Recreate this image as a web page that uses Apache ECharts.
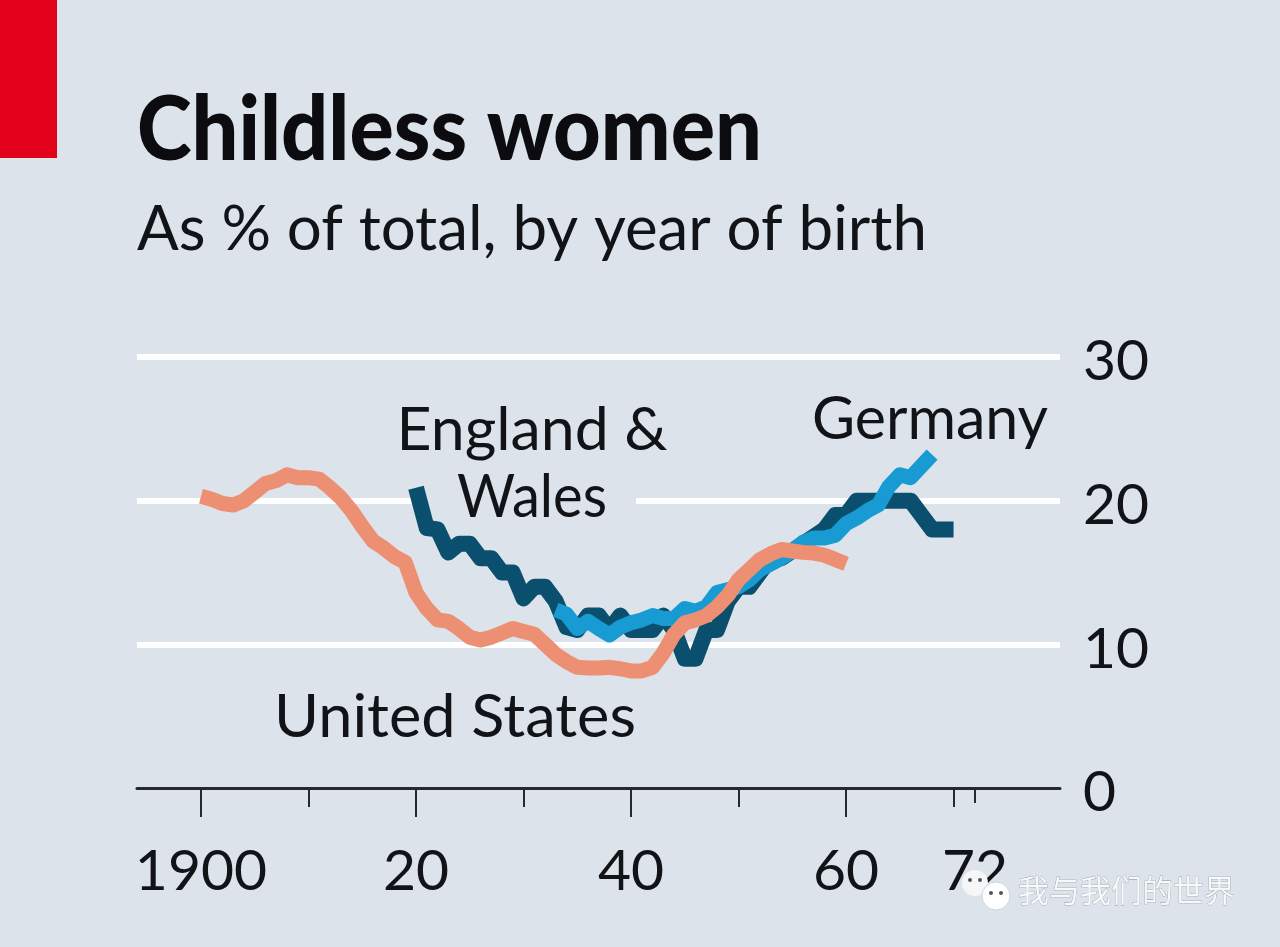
<!DOCTYPE html>
<html><head><meta charset="utf-8">
<style>html,body{margin:0;padding:0;background:#dce3eb}#c{width:1280px;height:947px}</style>
<script src="https://cdn.jsdelivr.net/npm/echarts@6/dist/echarts.min.js"></script>
</head><body><div id="c"></div>
<script>
const titleText = "Childless women";
const subtitleText = "As % of total, by year of birth";
const yTicks = [0, 10, 20, 30];
const majorYears = [1900, 1920, 1940, 1960];
const minorYears = [1910, 1930, 1950, 1970];
const lastYear = [1972];
const yearLabels = {1900: "1900", 1920: "20", 1940: "40", 1960: "60", 1972: "72"};
const usStart = 1900;
const usValues = [20.3,20.1,19.8,19.7,20.0,20.6,21.2,21.4,21.8,21.6,21.6,21.5,20.9,20.2,19.3,18.2,17.2,16.7,16.1,15.7,13.6,12.5,11.7,11.6,11.1,10.5,10.3,10.5,10.8,11.1,10.9,10.7,10.0,9.3,8.8,8.4,8.35,8.35,8.4,8.3,8.15,8.15,8.4,9.4,10.7,11.5,11.7,12.0,12.6,13.4,14.5,15.2,15.9,16.3,16.6,16.5,16.4,16.35,16.2,15.9,15.6];
const ewStart = 1920;
const ewValues = [20.9,18.1,18,16.4,17,17,16,16,15,15,13.2,14,14,13,11.2,11,12,12,11,12,11,11,11,12,11,9,9,11,11,13,14,14,15,16,16,16.5,17,17.5,18,19,19,20,20,20,20,20,20,19,18,18,18];
const deStart = 1933;
const deValues = [12.4,12.1,11.1,11.6,11.1,10.65,11.2,11.5,11.7,12,11.8,11.8,12.5,12.3,12.6,13.6,13.8,14,14.5,15.2,15.6,16,16.5,17.1,17.4,17.4,17.6,18.4,18.8,19.3,19.7,21,21.8,21.6,22.4,23.2];
const toPairs = (start, vals) => vals.map((v, i) => [start + i, v]);
const ink = "#111317", bg = "#dce3eb", axisInk = "#26292d";
const xMin = 1894.05, xMax = 1979.9;
const measure = document.createElement("canvas").getContext("2d");
const fit = (text, font, width) => { measure.font = font; return width / measure.measureText(text).width; };
const fitted = (text, font, width, x, y, align, fill) => ({
  type: "text", x, y, z: 20, scaleX: fit(text, font, width), silent: true,
  style: {text, x: 0, y: 0, align, verticalAlign: "middle", font, fill}
});
const mkLine = (name, start, vals, color, w) => ({
  name, type: "line", data: toPairs(start, vals), showSymbol: false, silent: true,
  lineStyle: {color, width: w, cap: "butt", join: "round"}, animation: false
});
const mkX = (ticks, len, extra) => Object.assign({
  type: "value", position: "bottom", min: xMin, max: xMax, splitLine: {show: false},
  axisLine: {show: false},
  axisTick: {show: true, customValues: ticks, length: len, lineStyle: {color: axisInk, width: 2}},
  axisLabel: {show: false}
}, extra || {});
const labelFont = "60px Lato";
const chart = echarts.init(document.getElementById("c"), null, {renderer: "canvas"});
chart.setOption({
  animation: false,
  backgroundColor: bg,
  grid: {left: 137, right: 220, top: 357, bottom: 159, containLabel: false},
  xAxis: [
    mkX(majorYears, 29, {
      axisLine: {show: true, onZero: false, lineStyle: {color: axisInk, width: 3}},
      axisLabel: {show: true, customValues: majorYears.concat(lastYear), margin: 55, fontFamily: "Lato", fontSize: 57, color: ink,
        formatter: v => yearLabels[v] || ""}
    }),
    mkX(minorYears, 19),
    mkX(lastYear, 15)
  ],
  yAxis: {
    type: "value", position: "right", min: 0, max: 30, interval: 10,
    axisLine: {show: false}, axisTick: {show: false},
    splitLine: {show: true, showMinLine: false, lineStyle: {color: "#ffffff", width: 6}},
    axisLabel: {margin: 23, customValues: yTicks, formatter: v => "{n|" + v + "}",
      rich: {n: {fontFamily: "Lato", fontSize: 57, color: ink, padding: [10, 0, 0, 0]}}}
  },
  series: [
    mkLine("England & Wales", ewStart, ewValues, "#0a4f6e", 16),
    mkLine("Germany", deStart, deValues, "#189ad2", 15),
    mkLine("United States", usStart, usValues, "#ec8f72", 15)
  ],
  graphic: [
    {type: "rect", z: 1, shape: {x: 425, y: 494, width: 211, height: 13}, style: {fill: bg}, silent: true},
    fitted(titleText, "900 90px Lato", 625, 137, 131, "left", "#0c0c10"),
    fitted(subtitleText, "62px Lato", 790, 137, 230, "left", ink),
    fitted("England &", labelFont, 271, 532, 431, "center", ink),
    fitted("Wales", labelFont, 150, 532, 498, "center", ink),
    fitted("Germany", labelFont, 236, 930, 420, "center", ink),
    fitted("United States", labelFont, 362, 455, 718, "center", ink),
    {type: "rect", z: 20, shape: {x: 0, y: 0, width: 57, height: 158}, style: {fill: "#e3001b"}},
    {type: "circle", z: 21, shape: {cx: 975, cy: 883, r: 13}, style: {fill: "#f4f6f8"}},
    {type: "circle", z: 23, shape: {cx: 970, cy: 880, r: 2}, style: {fill: "#555"}},
    {type: "circle", z: 23, shape: {cx: 980, cy: 880, r: 2}, style: {fill: "#555"}},
    {type: "circle", z: 22, shape: {cx: 996, cy: 896, r: 14}, style: {fill: "#ffffff", stroke: "#cfd5dc", lineWidth: 1}},
    {type: "circle", z: 23, shape: {cx: 991, cy: 893, r: 2}, style: {fill: "#555"}},
    {type: "circle", z: 23, shape: {cx: 1001, cy: 893, r: 2}, style: {fill: "#555"}},
    {type: "text", z: 21, x: 1018, y: 890, style: {text: "我与我们的世界", x: 0, y: 0, verticalAlign: "middle",
      font: '31px "Noto Sans CJK SC"', fill: "#f7f8fa", stroke: "#8b9096", lineWidth: 0.6}}
  ]
});
</script></body></html>
